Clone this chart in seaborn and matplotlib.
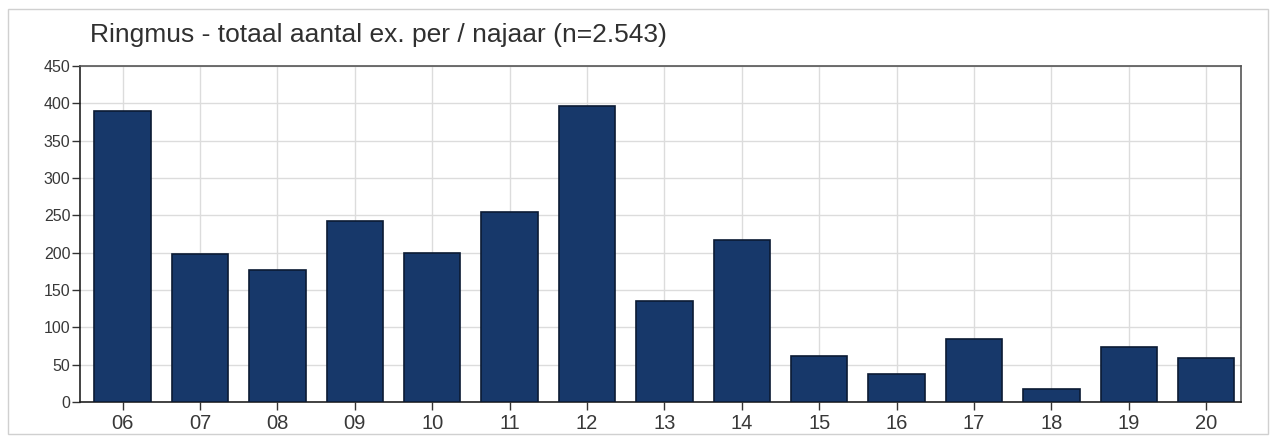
import pandas as pd
import matplotlib
matplotlib.use('Agg')
import matplotlib.pyplot as plt
import seaborn as sns

# seizoenen (najaar) en aantallen
years = ['06', '07', '08', '09', '10', '11', '12', '13', '14', '15', '16', '17', '18', '19', '20']
counts = [390, 198, 177, 242, 200, 254, 397, 135, 217, 61, 38, 84, 18, 73, 59]
title = 'Ringmus - totaal aantal ex. per / najaar (n=2.543)'
yticks = list(range(0, 451, 50))


def main():
    sns.set_theme(style='whitegrid')
    plt.rcParams['font.family'] = ['Liberation Sans', 'DejaVu Sans']

    df = pd.DataFrame({'year': years, 'count': counts})

    fig = plt.figure(figsize=(12.76, 4.43), dpi=100)
    ax = fig.add_axes([0.0627, 0.0926, 0.9099, 0.7584])

    sns.barplot(data=df, x='year', y='count', color='#17386a', width=0.73,
                edgecolor='#0b1a33', linewidth=1.2, saturation=1, ax=ax, zorder=3)

    ax.set_ylim(0, 450)
    ax.set_yticks(yticks)
    ax.set_xlim(-0.55, len(years) - 0.55)
    ax.set_xlabel('')
    ax.set_ylabel('')

    ax.grid(True, color='#dcdcdc', linewidth=1.0, zorder=0)
    ax.set_axisbelow(True)
    for side in ['left', 'bottom', 'top', 'right']:
        ax.spines[side].set_visible(True)
        ax.spines[side].set_color('#555555')
        ax.spines[side].set_linewidth(1.2)
    ax.spines['left'].set_color('#222222')
    ax.spines['bottom'].set_color('#222222')

    ax.tick_params(axis='x', labelsize=14.5, length=6, width=1, color='#333333',
                   bottom=True, labelcolor='#383838', pad=3)
    ax.tick_params(axis='y', labelsize=11.5, length=6, width=1, color='#333333',
                   left=True, labelcolor='#383838', pad=1)

    fig.text(90 / 1276, 1 - 35 / 443, title, fontsize=19, color='#303030',
             ha='left', va='center')

    # dunne lichtgrijze rand rond de figuur
    border = plt.Rectangle((8 / 1276, 0.02), 1 - 16 / 1276, 0.96, transform=fig.transFigure,
                           fill=False, edgecolor='#d0d0d0', linewidth=1)
    fig.patches.append(border)

    fig.savefig('out.png', dpi=100)


if __name__ == "__main__":
    main()
